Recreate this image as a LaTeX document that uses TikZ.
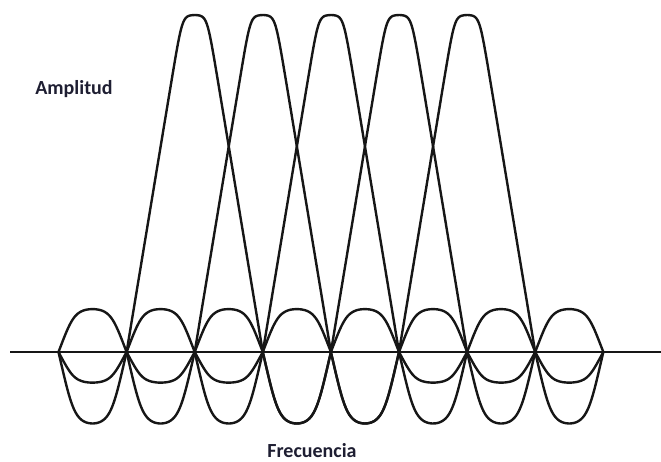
\documentclass[tikz,border=0pt]{standalone}
\usepackage{fontspec}
\setmainfont{Carlito}
\definecolor{ink}{RGB}{22,22,22}
\definecolor{labink}{RGB}{30,30,50}
\begin{document}
\begin{tikzpicture}[x=1pt,y=1pt,
  declare function={
    sidel(\t)=sin(deg(pi*abs(\t)))/(pi*(floor(abs(\t))+0.5))*1.2/pow(1+pow(1.2*abs(sin(deg(pi*\t))),4),0.25)/0.9063;
    mainl(\t)=(1.22*(1-abs(\t)))/pow(1+pow(1.22*(1-abs(\t)),24),1/24)/0.9997;
  },
  curve/.style={line width=2.4pt, line join=round, line cap=round, draw=ink},
  axisline/.style={line width=2.4pt, draw=ink},
  lab/.style={font=\fontsize{20}{24}\selectfont\bfseries, text=labink, inner sep=0pt}]
\useasboundingbox (0,0) rectangle (661,462);
\coordinate (bl) at (10,110);
\coordinate (br) at (661,110);
\draw[axisline] (bl) -- (br);
\foreach \k in {2,...,6} {
  \pgfmathsetmacro\lo{max(-4,-\k)}
  \pgfmathsetmacro\hi{min(4,8-\k)}
  \draw[curve] plot[domain=\lo:-1, samples=150, smooth] ({58.5+68.1*(\k+\x)}, {110+337*sidel(\x)});
  \draw[curve] plot[domain=-1:1, samples=161] ({58.5+68.1*(\k+\x)}, {110+337*mainl(\x)});
  \draw[curve] plot[domain=1:\hi, samples=150, smooth] ({58.5+68.1*(\k+\x)}, {110+337*sidel(\x)});
}
\node[lab] (amp) at (74,373) {Amplitud};
\node[lab] (freq) at (312,11) {Frecuencia};
\end{tikzpicture}
\end{document}
